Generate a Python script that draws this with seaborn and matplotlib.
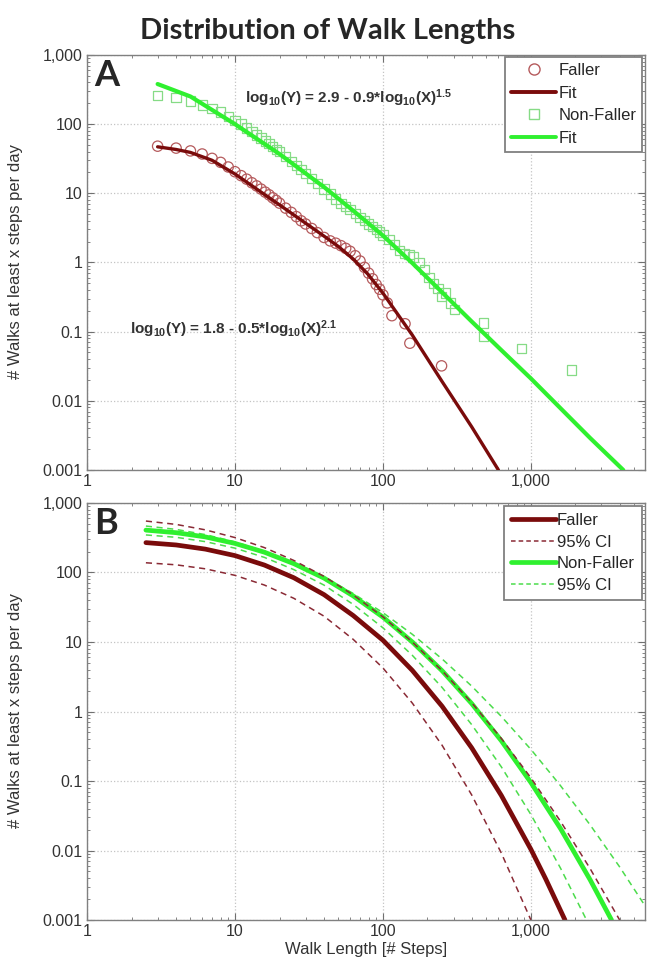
import matplotlib
matplotlib.use("Agg")
import matplotlib.pyplot as plt
import matplotlib.ticker as mticker
from matplotlib.lines import Line2D
import numpy as np
import pandas as pd
import seaborn as sns

faller_x = [3, 4, 5, 6, 7, 8, 9, 10, 11, 12, 13, 14, 15, 16, 17, 18, 19, 20, 22, 24, 26, 28, 30,
            33, 36, 40, 44, 48, 52, 56, 60, 65, 70, 75, 80, 85, 90, 95, 100, 107, 115, 141, 152, 249]
faller_y = [48, 45, 41, 37, 32, 28, 24, 20.5, 18, 16, 14.2, 12.8, 11.5, 10.4, 9.5, 8.6, 7.9, 7.2,
            6.1, 5.3, 4.6, 4.0, 3.6, 3.1, 2.7, 2.3, 2.05, 1.9, 1.75, 1.6, 1.45, 1.25, 1.05, 0.85,
            0.7, 0.58, 0.48, 0.41, 0.34, 0.26, 0.17, 0.13, 0.068, 0.032]

nonfaller_x = [3, 4, 5, 6, 7, 8, 9, 10, 11, 12, 13, 14, 15, 16, 17, 18, 19, 20, 22, 24, 26, 28, 30,
               33, 36, 40, 44, 48, 52, 56, 60, 65, 70, 75, 80, 85, 90, 95, 100, 110, 120, 130, 140,
               150, 160, 175, 190, 205, 220, 235, 249, 265, 285, 306, 476, 476, 865, 1884]
nonfaller_y = [260, 240, 215, 190, 170, 150, 130, 112, 100, 88, 78, 70, 63, 57, 52, 47, 43, 40, 34,
               29, 25, 22, 19.5, 16.5, 14, 11.5, 9.8, 8.3, 7.2, 6.4, 5.8, 5.1, 4.5, 4.0, 3.6, 3.3,
               3.0, 2.75, 2.5, 2.15, 1.8, 1.5, 1.35, 1.3, 1.2, 1.0, 0.8, 0.6, 0.5, 0.42, 0.32,
               0.36, 0.26, 0.21, 0.133, 0.085, 0.057, 0.028]

# fitted curves, panel A
fitA_faller_x = [3, 4, 5, 7, 10, 20, 40, 50, 63, 79, 100, 158, 251, 398, 603]
fitA_faller_y = [47, 43, 39, 30, 19, 6.8, 2.4, 1.7, 1.12, 0.68, 0.36, 0.089, 0.019, 0.0042, 0.001]

fitA_nonfaller_x = [3, 5, 10, 20, 40, 63, 100, 158, 251, 398, 631, 1000, 1585, 2512, 4207]
fitA_nonfaller_y = [380, 251, 100, 37, 12.3, 5.6, 2.45, 0.98, 0.37, 0.14, 0.054, 0.021,
                    0.0078, 0.0029, 0.001]

# --- Panel B: model fits with 95% CI ---
fitB_x = [2.5, 4, 6.3, 10, 15.8, 25, 40, 63, 100, 158, 251, 398, 631, 1000, 1585, 2512, 3981, 6026]
faller_fit = [269, 249, 217, 175, 128, 84, 48, 24, 10.6, 3.9, 1.19, 0.30, 0.062, 0.0104]
faller_fit_x_end = [1259, 1700]
faller_fit_y_end = [0.0039, 0.001]
faller_ci_lo = [138, 129, 113, 91, 66, 42.5, 23.5, 10.9, 4.23, 1.32, 0.327, 0.063, 0.0092, 0.001]
faller_ci_hi = [550, 492, 411, 318, 228, 149, 88, 47.5, 23.0, 10.0, 3.87, 1.34, 0.41, 0.111,
                0.0263, 0.0055]
faller_ci_hi_x_end = [3981]
faller_ci_hi_y_end = [0.001]
nonfaller_fit = [407, 374, 325, 262, 196, 134, 83, 46, 22.8, 10.0, 3.86, 1.30, 0.38, 0.095,
                 0.0207, 0.0038]
nonfaller_fit_x_end = [3508]
nonfaller_fit_y_end = [0.001]
nonfaller_ci_lo = [347, 321, 278, 224, 165, 110, 65.8, 34.7, 16.0, 6.43, 2.22, 0.647, 0.160,
                   0.0329, 0.00558]
nonfaller_ci_lo_x_end = [2377]
nonfaller_ci_lo_y_end = [0.001]
nonfaller_ci_hi = [466, 417, 351, 276, 202, 137, 86, 49.8, 26.4, 12.9, 5.71, 2.32, 0.85, 0.285,
                   0.0857, 0.0234, 0.0058, 0.0015]

ticks = [1, 10, 100, 1000]
yticks = [0.001, 0.01, 0.1, 1, 10, 100, 1000]

dark_red = "#7a0b0b"
faller_edge = "#b55a5c"
green = "#2ff02f"
nonfaller_edge = "#86db86"
dash_red = "#8a2a35"
dash_green = "#4cdc4c"

sns.set_style("ticks")
plt.rcParams["font.family"] = ["Liberation Sans", "DejaVu Sans"]
plt.rcParams["mathtext.default"] = "regular"

fig = plt.figure(figsize=(6.48, 9.66), dpi=100)
axA = fig.add_axes([0.1343, 0.5135, 0.861, 0.4296])
axB = fig.add_axes([0.1343, 0.0476, 0.861, 0.4317])


def fmt(v, pos):
    if v >= 1:
        return f"{v:,.0f}"
    return f"{v:g}"


for ax in (axA, axB):
    ax.set_xscale("log")
    ax.set_yscale("log")
    ax.set_xlim(1, 5900)
    ax.set_ylim(0.001, 1000)
    ax.set_xticks(ticks)
    ax.set_yticks(yticks)
    ax.xaxis.set_major_formatter(mticker.FuncFormatter(fmt))
    ax.yaxis.set_major_formatter(mticker.FuncFormatter(fmt))
    ax.xaxis.set_minor_locator(mticker.LogLocator(base=10, subs=np.arange(2, 10), numticks=20))
    ax.yaxis.set_minor_locator(mticker.LogLocator(base=10, subs=np.arange(2, 10), numticks=20))
    ax.xaxis.set_minor_formatter(mticker.NullFormatter())
    ax.yaxis.set_minor_formatter(mticker.NullFormatter())
    ax.tick_params(which="both", direction="in", top=True, right=True, colors="#707070",
                   labelcolor="#333333", labelsize=11.5)
    ax.tick_params(which="major", length=5, width=0.8, pad=3)
    ax.tick_params(which="minor", length=2.5, width=0.6)
    ax.grid(True, which="major", color="#c4c4c4", linestyle=":", linewidth=0.9)
    for s in ax.spines.values():
        s.set_color("#808080")
        s.set_linewidth(1.0)

# Panel A
dfF = pd.DataFrame({"x": faller_x, "y": faller_y})
dfN = pd.DataFrame({"x": nonfaller_x, "y": nonfaller_y})
sns.scatterplot(data=dfN, x="x", y="y", ax=axA, marker="s", s=45, facecolor="none",
                edgecolor=nonfaller_edge, linewidth=0.9, zorder=3)
sns.scatterplot(data=dfF, x="x", y="y", ax=axA, marker="o", s=55, facecolor="none",
                edgecolor=faller_edge, linewidth=0.9, zorder=3)
sns.lineplot(x=fitA_nonfaller_x, y=fitA_nonfaller_y, ax=axA, color=green, lw=3.0, zorder=4)
sns.lineplot(x=fitA_faller_x, y=fitA_faller_y, ax=axA, color=dark_red, lw=2.4, zorder=4)
axA.set_xlabel("")
axA.set_ylabel("")

axA.text(0.283, 0.897, "log$_{10}$(Y) = 2.9 - 0.9*log$_{10}$(X)$^{1.5}$", transform=axA.transAxes,
         fontsize=11, fontweight="bold", color="#333333", va="center", zorder=5)
axA.text(0.077, 0.338, "log$_{10}$(Y) = 1.8 - 0.5*log$_{10}$(X)$^{2.1}$", transform=axA.transAxes,
         fontsize=11, fontweight="bold", color="#333333", va="center", zorder=5)

handlesA = [
    Line2D([], [], ls="none", marker="o", mfc="none", mec=faller_edge, ms=8, label="Faller"),
    Line2D([], [], color=dark_red, lw=2.8, label="Fit"),
    Line2D([], [], ls="none", marker="s", mfc="none", mec=nonfaller_edge, ms=7, label="Non-Faller"),
    Line2D([], [], color=green, lw=2.8, label="Fit"),
]
legA = axA.legend(handles=handlesA, loc="upper right", fontsize=12, fancybox=False,
                  edgecolor="#808080", framealpha=1, handlelength=2.7, borderpad=0.35,
                  labelspacing=0.45, handletextpad=0.15, borderaxespad=0.15)
legA.get_frame().set_linewidth(1.3)

# Panel B
sns.lineplot(x=fitB_x[:len(nonfaller_ci_hi)], y=nonfaller_ci_hi, ax=axB, color=dash_green,
             lw=1.1, linestyle=(0, (4, 3)))
sns.lineplot(x=fitB_x[:len(nonfaller_ci_lo)] + nonfaller_ci_lo_x_end,
             y=nonfaller_ci_lo + nonfaller_ci_lo_y_end, ax=axB, color=dash_green, lw=1.1,
             linestyle=(0, (4, 3)))
sns.lineplot(x=fitB_x[:len(faller_ci_lo)], y=faller_ci_lo, ax=axB, color=dash_red, lw=1.1,
             linestyle=(0, (4, 3)))
sns.lineplot(x=fitB_x[:len(faller_fit)] + faller_fit_x_end, y=faller_fit + faller_fit_y_end,
             ax=axB, color=dark_red, lw=3.4)
sns.lineplot(x=fitB_x[:len(nonfaller_fit)] + nonfaller_fit_x_end,
             y=nonfaller_fit + nonfaller_fit_y_end, ax=axB, color=green, lw=3.4)
sns.lineplot(x=fitB_x[:len(faller_ci_hi)] + faller_ci_hi_x_end, y=faller_ci_hi + faller_ci_hi_y_end,
             ax=axB, color=dash_red, lw=1.1, linestyle=(0, (4, 3)))
axB.set_xlabel("Walk Length [# Steps]", fontsize=12, color="#333333", labelpad=2)
axB.set_ylabel("")

handlesB = [
    Line2D([], [], color=dark_red, lw=3.4, label="Faller"),
    Line2D([], [], color=dash_red, lw=1.1, ls=(0, (3, 2)), label="95% CI"),
    Line2D([], [], color=green, lw=3.4, label="Non-Faller"),
    Line2D([], [], color=dash_green, lw=1.1, ls=(0, (3, 2)), label="95% CI"),
]
legB = axB.legend(handles=handlesB, loc="upper right", fontsize=12, fancybox=False,
                  edgecolor="#808080", framealpha=1, handlelength=2.7, borderpad=0.4,
                  labelspacing=0.4, handletextpad=0.05, borderaxespad=0.2)
legB.get_frame().set_linewidth(1.3)

# panel letters
axA.text(0.012, 0.99, "A", transform=axA.transAxes, fontsize=26, fontweight="bold",
         family=["Lato", "DejaVu Sans"], va="top", ha="left")
axB.text(0.012, 0.99, "B", transform=axB.transAxes, fontsize=26, fontweight="bold",
         family=["Lato", "DejaVu Sans"], va="top", ha="left")

# y labels and title
for yc in (0.729, 0.264):
    fig.text(0.024, yc, "# Walks at least x steps per day", rotation=90, fontsize=12,
             color="#333333", ha="center", va="center")
fig.text(0.505, 0.968, "Distribution of Walk Lengths", fontsize=21, fontweight="bold",
         family=["Lato", "DejaVu Sans"], ha="center", va="center")

fig.savefig("out.png", dpi=100)
